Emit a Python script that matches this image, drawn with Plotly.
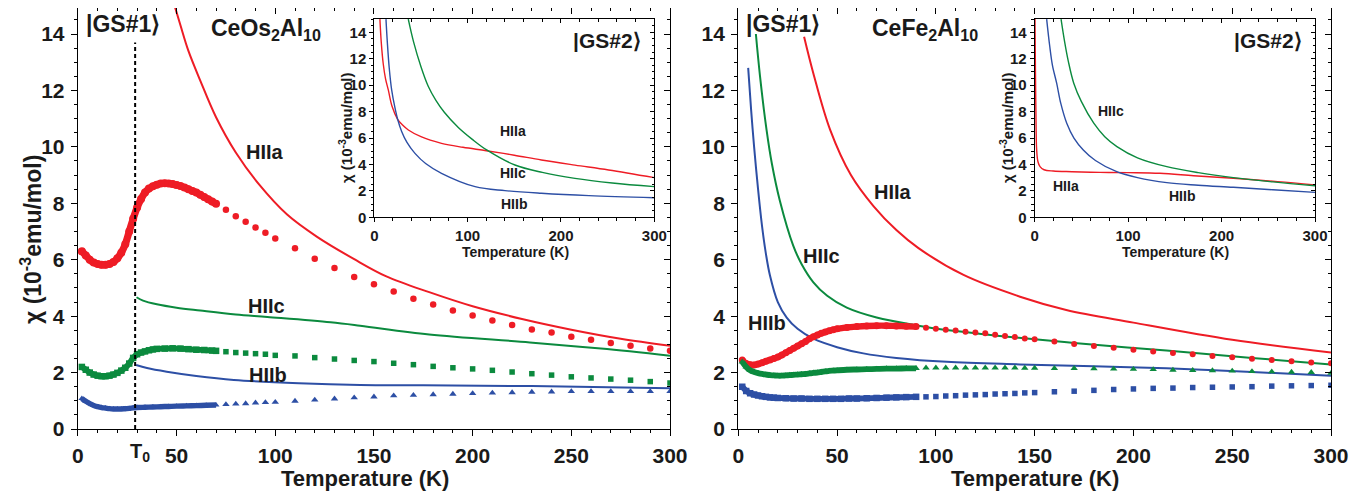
import plotly.graph_objects as go

W, H = 1364, 493
OFF = 8  # page body margin of the html page; positions below are in screen pixels
RED, GREEN, BLUE = "#EE1C25", "#0B8A3E", "#2D4FA5"
FONT = "Liberation Sans"

# ---------------- CeOs2Al10 (left panel) data ----------------
os_a_dense_T = [2, 4, 6, 8, 10, 12, 14, 16, 18, 20, 22, 24, 26, 28, 30, 32, 34, 36, 38, 40,
                42, 44, 46, 48, 50, 52, 54, 56, 58, 60, 62, 64, 66, 68, 70]
os_a_dense_v = [6.3, 6.15, 6.0, 5.9, 5.85, 5.82, 5.82, 5.85, 5.92, 6.05, 6.25, 6.55, 7.0, 7.45, 7.85,
                8.15, 8.38, 8.52, 8.6, 8.66, 8.7, 8.71, 8.7, 8.68, 8.65, 8.61, 8.56, 8.5, 8.44, 8.38,
                8.3, 8.22, 8.14, 8.06, 7.98]
os_sparse_T = [75, 80, 85, 90, 95, 100, 110, 120, 130, 140, 150, 160, 170, 180, 190, 200, 210,
               220, 230, 240, 250, 260, 270, 280, 290, 300]
os_a_sparse_v = [7.77, 7.54, 7.35, 7.14, 6.96, 6.75, 6.41, 6.03, 5.71, 5.39, 5.13, 4.87, 4.62, 4.41,
                 4.20, 4.02, 3.85, 3.69, 3.53, 3.42, 3.27, 3.16, 3.05, 2.95, 2.85, 2.77]

os_c_dense_T = [2, 4, 6, 8, 10, 12, 14, 16, 18, 20, 22, 24, 26, 28, 30, 32, 34, 36, 38, 40, 44,
                48, 52, 56, 60, 64, 68, 70]
os_c_dense_v = [2.2, 2.1, 2.0, 1.93, 1.89, 1.87, 1.87, 1.89, 1.93, 1.99, 2.07, 2.17, 2.32, 2.52, 2.65,
                2.71, 2.75, 2.79, 2.82, 2.84, 2.85, 2.86, 2.85, 2.83, 2.81, 2.8, 2.78, 2.77]
os_c_sparse_v = [2.74, 2.71, 2.69, 2.67, 2.65, 2.61, 2.59, 2.53, 2.48, 2.43, 2.39, 2.33, 2.28, 2.22,
                 2.17, 2.13, 2.08, 2.02, 1.96, 1.91, 1.85, 1.81, 1.77, 1.73, 1.68, 1.63]

os_b_dense_T = [2, 4, 6, 8, 10, 12, 14, 16, 18, 20, 22, 24, 26, 28, 30, 34, 38, 42, 46, 50, 55,
                60, 65, 70]
os_b_dense_v = [1.08, 0.98, 0.9, 0.83, 0.79, 0.76, 0.74, 0.72, 0.71, 0.71, 0.71, 0.72, 0.73, 0.75,
                0.76, 0.77, 0.78, 0.79, 0.8, 0.81, 0.82, 0.83, 0.84, 0.85]
os_b_sparse_v = [0.87, 0.89, 0.9, 0.93, 0.94, 0.95, 0.99, 1.03, 1.07, 1.11, 1.14, 1.18, 1.2, 1.22,
                 1.24, 1.26, 1.28, 1.29, 1.31, 1.32, 1.33, 1.33, 1.33, 1.33, 1.33, 1.33]

# model curves |GS#1> (left)
os_fit_a_T = [49, 52, 56, 62, 70, 80, 92, 106, 121, 140, 156, 178, 200, 225, 250, 275, 300]
os_fit_a_v = [15, 14.3, 13.4, 12.35, 11.05, 9.8, 8.65, 7.6, 6.82, 6.02, 5.42, 4.85, 4.35, 3.9,
              3.52, 3.2, 2.95]
os_fit_c_T = [29.7, 33, 40, 50, 62, 80, 96, 128, 143, 178, 229, 265, 300]
os_fit_c_v = [4.67, 4.55, 4.42, 4.3, 4.2, 4.06, 3.97, 3.78, 3.66, 3.35, 3.07, 2.85, 2.6]
os_fit_b_T = [29.5, 35, 45, 60, 79, 112, 143, 175, 230, 300]
os_fit_b_v = [2.27, 2.16, 2.03, 1.88, 1.74, 1.62, 1.56, 1.55, 1.52, 1.44]
T0 = 29
T0_top = 13.7

# inset |GS#2> (left)
os_in_a_T = [6, 7.5, 9.6, 12, 15, 19, 25, 30, 36.5, 50, 72, 95, 120, 150, 179, 215, 251, 300]
os_in_a_v = [15, 13.2, 11.6, 10.5, 9.64, 8.4, 7.42, 7.0, 6.61, 6.1, 5.6, 5.3, 5.04, 4.7, 4.34,
             3.95, 3.58, 3.0]
os_in_b_T = [12.5, 14, 16, 18.6, 22, 25, 29.3, 35, 43.6, 55, 72, 108, 140, 179, 230, 300]
os_in_b_v = [15, 13.2, 11.3, 9.64, 8.33, 7.42, 6.5, 5.67, 4.84, 4.07, 3.33, 2.32, 2.02, 1.82, 1.64, 1.48]
os_in_c_T = [36.4, 42, 50, 57.9, 66, 75, 90, 105, 120.4, 150.7, 180, 215, 255, 300]
os_in_c_v = [15, 13.3, 11.4, 9.9, 8.85, 7.95, 6.8, 5.9, 5.1, 3.96, 3.4, 2.95, 2.6, 2.32]

# ---------------- CeFe2Al10 (right panel) data ----------------
fe_a_dense_T = [2, 4, 6, 8, 10, 12, 14, 16, 18, 20, 22, 24, 26, 28, 30, 32, 34, 36, 38, 40, 42,
                44, 46, 48, 50, 55, 60, 65, 70, 75, 80, 85, 90]
fe_a_dense_v = [2.45, 2.32, 2.28, 2.27, 2.3, 2.35, 2.4, 2.45, 2.5, 2.55, 2.62, 2.7, 2.78, 2.86, 2.94,
                3.02, 3.1, 3.2, 3.27, 3.33, 3.39, 3.44, 3.48, 3.52, 3.55, 3.6, 3.63, 3.65, 3.66,
                3.66, 3.65, 3.64, 3.63]
fe_sparse_T = [95, 100, 105, 110, 115, 120, 125, 130, 135, 140, 145, 150, 160, 170, 180, 190, 200,
               210, 220, 230, 240, 250, 260, 270, 280, 290, 300]
fe_a_sparse_v = [3.59, 3.55, 3.52, 3.49, 3.45, 3.42, 3.39, 3.34, 3.30, 3.26, 3.21, 3.18, 3.10, 3.01,
                 2.94, 2.88, 2.81, 2.75, 2.69, 2.65, 2.59, 2.54, 2.49, 2.45, 2.40, 2.36, 2.33]

fe_c_dense_T = [2, 4, 6, 8, 10, 12, 14, 16, 18, 20, 22, 24, 26, 28, 30, 32, 34, 36, 38, 40, 42,
                44, 46, 48, 50, 55, 60, 65, 70, 75, 80, 85, 90]
fe_c_dense_v = [2.38, 2.2, 2.08, 2.02, 1.98, 1.95, 1.93, 1.91, 1.9, 1.89, 1.89, 1.9, 1.91, 1.92,
                1.93, 1.94, 1.95, 1.97, 1.99, 2.0, 2.02, 2.04, 2.06, 2.07, 2.08, 2.1, 2.11, 2.12,
                2.13, 2.14, 2.14, 2.15, 2.15]
fe_c_sparse_v = [2.17, 2.17, 2.17, 2.17, 2.17, 2.17, 2.17, 2.17, 2.17, 2.17, 2.16, 2.16, 2.15, 2.15,
                 2.14, 2.13, 2.12, 2.11, 2.09, 2.08, 2.07, 2.06, 2.04, 2.03, 2.02, 2.01, 1.98]

fe_b_dense_T = [2, 4, 6, 8, 10, 12, 14, 16, 18, 20, 24, 28, 32, 36, 40, 44, 48, 52, 56, 60, 65,
                70, 75, 80, 85, 90]
fe_b_dense_v = [1.5, 1.35, 1.27, 1.22, 1.19, 1.16, 1.14, 1.12, 1.11, 1.1, 1.09, 1.08, 1.08, 1.07,
                1.07, 1.07, 1.07, 1.07, 1.08, 1.08, 1.09, 1.1, 1.11, 1.12, 1.13, 1.14]
fe_b_sparse_v = [1.14, 1.15, 1.17, 1.18, 1.2, 1.21, 1.22, 1.24, 1.25, 1.26, 1.28, 1.29, 1.32, 1.34,
                 1.37, 1.40, 1.42, 1.44, 1.45, 1.47, 1.48, 1.49, 1.50, 1.52, 1.53, 1.54, 1.55]

fe_fit_a_T = [33.3, 38, 46.5, 57, 68.4, 80, 91.2, 114, 142.6, 166, 200, 250, 300]
fe_fit_a_v = [13.9, 12.6, 10.6, 9.0, 7.9, 7.05, 6.41, 5.46, 4.69, 4.22, 3.77, 3.16, 2.71]
fe_fit_c_T = [8.9, 11, 14.3, 17, 21, 27.8, 32, 38, 45, 54.9, 70, 88.7, 110, 132.4, 170, 216.7,
              260, 300]
fe_fit_c_v = [14.0, 12.5, 10.6, 9.4, 8.1, 6.5, 5.85, 5.2, 4.72, 4.3, 3.95, 3.69, 3.47, 3.3,
              3.05, 2.78, 2.52, 2.29]
fe_fit_b_T = [5, 6.5, 8, 10, 12, 14, 16, 20, 24.5, 30, 38, 50, 63.3, 80, 105.5, 142.6, 180, 216.7,
              260, 300]
fe_fit_b_v = [12.8, 11.3, 10.0, 8.5, 7.2, 6.2, 5.45, 4.5, 3.95, 3.55, 3.2, 2.9, 2.68, 2.52, 2.38,
              2.29, 2.22, 2.15, 2.02, 1.89]

fe_in_a_T = [0.3, 0.8, 1.3, 2.1, 3.5, 5.7, 10, 19.9, 40, 69.9, 100, 134, 170, 212.6, 260, 300]
fe_in_a_v = [15, 11, 8, 5.1, 4.2, 3.83, 3.6, 3.5, 3.45, 3.4, 3.38, 3.33, 3.15, 2.95, 2.7, 2.45]
fe_in_b_T = [12.8, 16, 19, 23.5, 28, 34.3, 42, 52, 65, 87.8, 110, 141.4, 175, 212.6, 255, 300]
fe_in_b_v = [15, 13, 11.5, 10.15, 8.6, 7.12, 6.0, 5.1, 4.3, 3.45, 3.0, 2.62, 2.43, 2.27, 2.08, 1.89]
fe_in_c_T = [28.2, 32, 36, 41.8, 50, 63.2, 75, 88, 110, 141.4, 175, 212.6, 255, 300]
fe_in_c_v = [15, 13.3, 11.8, 10.15, 8.75, 7.12, 6.1, 5.35, 4.5, 3.83, 3.38, 3.0, 2.68, 2.39]

main_xticks = [0, 50, 100, 150, 200, 250, 300]
main_yticks = [0, 2, 4, 6, 8, 10, 12, 14]
inset_xticks = [0, 100, 200, 300]


def px(x):
    return (x - OFF) / W


def py(y):
    return min(1.0, max(0.0, 1 - (y - OFF) / H))


fig = go.Figure()


def line(xa, ya, T, v, color, width):
    fig.add_trace(go.Scatter(x=T, y=v, mode="lines", xaxis=xa, yaxis=ya,
                             line=dict(color=color, width=width, shape="spline", smoothing=1.0),
                             hoverinfo="skip", showlegend=False))


def pts(xa, ya, T, v, color, symbol, size, dense=False):
    fig.add_trace(go.Scatter(x=T, y=v, mode="lines+markers" if dense else "markers",
                             xaxis=xa, yaxis=ya,
                             line=dict(color=color, width=size * 0.9, shape="spline"),
                             marker=dict(color=color, symbol=symbol, size=size, line=dict(width=0)),
                             hoverinfo="skip", showlegend=False))


# left panel
line("x", "y", os_fit_a_T, os_fit_a_v, RED, 2)
line("x", "y", os_fit_c_T, os_fit_c_v, GREEN, 2)
line("x", "y", os_fit_b_T, os_fit_b_v, BLUE, 2)
pts("x", "y", os_a_dense_T, os_a_dense_v, RED, "circle", 8, True)
pts("x", "y", os_sparse_T, os_a_sparse_v, RED, "circle", 6.5)
pts("x", "y", os_c_dense_T, os_c_dense_v, GREEN, "square", 6.5, True)
pts("x", "y", os_sparse_T, os_c_sparse_v, GREEN, "square", 5.5)
pts("x", "y", os_b_dense_T, os_b_dense_v, BLUE, "triangle-up", 6, True)
pts("x", "y", os_sparse_T, os_b_sparse_v, BLUE, "triangle-up", 6.5)
fig.add_trace(go.Scatter(x=[T0, T0], y=[0, T0_top], mode="lines", xaxis="x", yaxis="y",
                         line=dict(color="black", width=2, dash="4px,3px"),
                         hoverinfo="skip", showlegend=False))

# right panel
line("x2", "y2", fe_fit_a_T, fe_fit_a_v, RED, 2)
line("x2", "y2", fe_fit_c_T, fe_fit_c_v, GREEN, 2)
line("x2", "y2", fe_fit_b_T, fe_fit_b_v, BLUE, 2)
pts("x2", "y2", fe_a_dense_T, fe_a_dense_v, RED, "circle", 7, True)
pts("x2", "y2", fe_sparse_T, fe_a_sparse_v, RED, "circle", 6)
pts("x2", "y2", fe_c_dense_T, fe_c_dense_v, GREEN, "triangle-up", 6.5, True)
pts("x2", "y2", fe_sparse_T, fe_c_sparse_v, GREEN, "triangle-up", 6.5)
pts("x2", "y2", fe_b_dense_T, fe_b_dense_v, BLUE, "square", 6.5, True)
pts("x2", "y2", fe_sparse_T, fe_b_sparse_v, BLUE, "square", 5.5)

# insets
line("x3", "y3", os_in_a_T, os_in_a_v, RED, 1.4)
line("x3", "y3", os_in_c_T, os_in_c_v, GREEN, 1.4)
line("x3", "y3", os_in_b_T, os_in_b_v, BLUE, 1.4)
line("x4", "y4", fe_in_a_T, fe_in_a_v, RED, 1.4)
line("x4", "y4", fe_in_c_T, fe_in_c_v, GREEN, 1.4)
line("x4", "y4", fe_in_b_T, fe_in_b_v, BLUE, 1.4)

# dummy traces for mirrored tick axes
for xa, ya in [("x5", "y"), ("x", "y5"), ("x6", "y2"), ("x2", "y6"),
               ("x7", "y3"), ("x3", "y7"), ("x8", "y4"), ("x4", "y8")]:
    fig.add_trace(go.Scatter(x=[None], y=[None], xaxis=xa, yaxis=ya, mode="markers",
                             hoverinfo="skip", showlegend=False))

# main plot frame: value 0 at screen y=429, value 15 at y=5.8 in the reference;
# the top is clipped to the page edge, keeping the same scale
MAIN_BOTTOM, MAIN_TOP_REF, MAIN_TOP = 429.0, 5.8, OFF
MAIN_YMAX = 15 * (MAIN_BOTTOM - MAIN_TOP) / (MAIN_BOTTOM - MAIN_TOP_REF)
MAIN_Y = [py(MAIN_BOTTOM), py(MAIN_TOP)]
INSET_Y = [py(217.3), py(19.1)]
domains = {
    1: ([px(77.9), px(670)], MAIN_Y, MAIN_YMAX),
    2: ([px(738.3), px(1331)], MAIN_Y, MAIN_YMAX),
    3: ([px(374.3), px(654.3)], INSET_Y, 15),
    4: ([px(1034.7), px(1315)], INSET_Y, 15),
}


def ax_name(letter, i):
    return f"{letter}axis" if i == 1 else f"{letter}axis{i}"


def ref(letter, i):
    return letter if i == 1 else f"{letter}{i}"


layout = {}
for i in range(1, 5):
    main = i <= 2
    dx, dy, ymax = domains[i]
    xticks = main_xticks if main else inset_xticks
    xminor = 10 if main else 20
    tfs = 21 if main else 15
    tl = 6 if main else 4
    mtl = 3 if main else 2.5
    lw = 1.3 if main else 1.1
    common_font = dict(family=FONT, size=tfs, color="#1a1a1a", weight="bold")
    layout[ax_name("x", i)] = dict(
        domain=dx, range=[0, 300], anchor=ref("y", i), tickmode="array", tickvals=xticks,
        ticks="outside", ticklen=tl, tickwidth=lw, tickcolor="black", automargin=False,
        showline=True, linecolor="black", linewidth=lw, mirror=True,
        showgrid=False, zeroline=False, tickfont=common_font, ticklabelstandoff=2 if main else 1,
        minor=dict(dtick=xminor, tick0=0, ticks="outside", ticklen=mtl, tickwidth=lw,
                   tickcolor="black", showgrid=False),
        fixedrange=True)
    layout[ax_name("y", i)] = dict(
        domain=dy, range=[0, ymax], anchor=ref("x", i), tickmode="array", tickvals=main_yticks,
        ticks="outside", ticklen=tl, tickwidth=lw, tickcolor="black", automargin=False,
        showline=True, linecolor="black", linewidth=lw, mirror=True,
        showgrid=False, zeroline=False, tickfont=common_font, ticklabelstandoff=2 if main else 0,
        minor=dict(dtick=0.5, tick0=0, ticks="outside", ticklen=mtl, tickwidth=lw,
                   tickcolor="black", showgrid=False),
        fixedrange=True)
    # mirrored inside ticks (top/right)
    layout[ax_name("x", i + 4)] = dict(
        overlaying=ref("x", i), side="top", anchor=ref("y", i), range=[0, 300],
        tickmode="array", tickvals=xticks, ticks="inside", ticklen=tl, tickwidth=lw,
        tickcolor="black", showticklabels=False, showgrid=False, zeroline=False,
        showline=False, automargin=False,
        minor=dict(dtick=xminor, tick0=0, ticks="inside", ticklen=mtl, tickwidth=lw,
                   tickcolor="black", showgrid=False),
        fixedrange=True)
    layout[ax_name("y", i + 4)] = dict(
        overlaying=ref("y", i), side="right", anchor=ref("x", i), range=[0, ymax],
        tickmode="array", tickvals=main_yticks, ticks="inside", ticklen=tl, tickwidth=lw,
        tickcolor="black", showticklabels=False, showgrid=False, zeroline=False,
        showline=False, automargin=False,
        minor=dict(dtick=0.5, tick0=0, ticks="inside", ticklen=mtl, tickwidth=lw,
                   tickcolor="black", showgrid=False),
        fixedrange=True)

fig.update_layout(**layout)

ann = []


def text(x, y, s, size, angle=0, xanchor="center", color="#1a1a1a"):
    ann.append(dict(x=px(x), y=py(y), xref="paper", yref="paper", text=s, showarrow=False,
                    xanchor=xanchor, yanchor="middle", textangle=angle,
                    font=dict(family=FONT, size=size, color=color, weight="bold")))


CHI = "χ (10<sup>-3</sup>emu/mol)"
# main axis titles
text(31, 240, CHI, 23, angle=-90)
text(365, 478, "Temperature (K)", 22)
text(1035, 478, "Temperature (K)", 22)
text(140, 452, "T<sub>0</sub>", 20)
# left panel labels
text(123, 24, "|GS#1⟩", 23)
text(266, 29, "CeOs<sub>2</sub>Al<sub>10</sub>", 23)
text(265, 152, "HIIa", 20)
text(266, 306, "HIIc", 20)
text(268, 375, "HIIb", 20)
# right panel labels
text(783, 24, "|GS#1⟩", 23)
text(925, 29, "CeFe<sub>2</sub>Al<sub>10</sub>", 23)
text(893, 192, "HIIa", 20)
text(821, 256, "HIIc", 20)
text(767, 323, "HIIb", 20)
# insets
text(345, 128, CHI, 15, angle=-90)
text(515, 252, "Temperature (K)", 14)
text(607, 40, "|GS#2⟩", 21)
text(513, 131, "HIIa", 14)
text(513, 173, "HIIc", 14)
text(514, 204, "HIIb", 14)
text(1006, 128, CHI, 15, angle=-90)
text(1175, 252, "Temperature (K)", 14)
text(1268, 40, "|GS#2⟩", 21)
text(1111, 111, "HIIc", 14)
text(1066, 186, "HIIa", 14)
text(1182, 196, "HIIb", 14)

fig.update_layout(width=W, height=H, margin=dict(l=0, r=0, t=0, b=0, pad=0),
                  paper_bgcolor="white", plot_bgcolor="rgba(0,0,0,0)",
                  showlegend=False, annotations=ann)

fig.write_html("out.html")
